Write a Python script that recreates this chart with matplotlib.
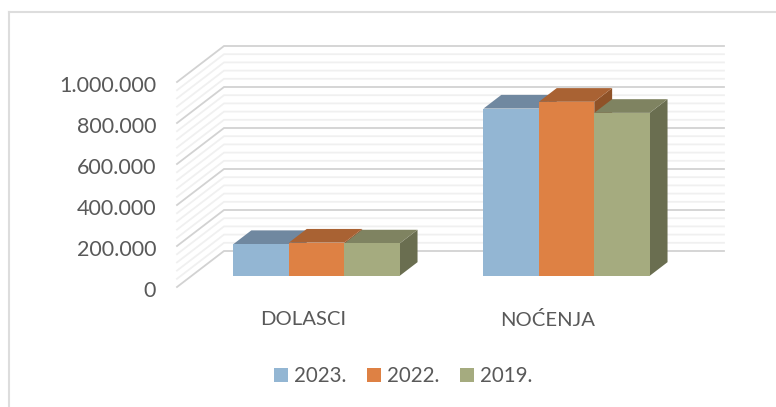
import matplotlib
matplotlib.use("Agg")
import matplotlib.pyplot as plt
from matplotlib.patches import Polygon, Rectangle
from matplotlib.lines import Line2D
from matplotlib.ticker import FuncFormatter
from matplotlib.transforms import ScaledTranslation

categories = ["DOLASCI", "NOĆENJA"]
series_names = ["2023.", "2022.", "2019."]
values_2023 = [155000, 816000]
values_2022 = [162000, 849000]
values_2019 = [158000, 795000]
major_ticks = [0, 200000, 400000, 600000, 800000, 1000000]
minor_step = 40000

front_colors = ["#93B6D3", "#DE8144", "#A5AB7F"]
top_colors = ["#7088A0", "#A96233", "#7F8361"]
side_colors = ["#6E8499", "#8F5228", "#6A6E50"]

W, H = 776, 407
plt.rcParams["font.family"] = ["Lato", "DejaVu Sans"]
fig = plt.figure(figsize=(W / 100, H / 100), dpi=100)

# front plane of the 3D box, pixels
L, R, T, B = 177, 677, 82, 287
ax = fig.add_axes([L / W, 1 - B / H, (R - L) / W, (B - T) / H])
ax.set_xlim(-0.5, 1.5)
ax.set_ylim(0, 1000000)
ax.patch.set_alpha(0)
for s in ax.spines.values():
    s.set_visible(False)

DX = 47 / 250      # wall depth in category units
DY = 36 / 205 * 1e6  # wall depth in value units


def proj(x, y, d):
    return x + DX * d, y + DY * d


# gridlines: left wall + back wall
v = 0
while v <= major_ticks[-1]:
    major = v in major_ticks
    col, lw = ("#D2D2D2", 1.3) if major else ("#F0F0F0", 1.3)
    x0, y0 = proj(-0.5, v, 0)
    x1, y1 = proj(-0.5, v, 1)
    x2, y2 = proj(1.5, v, 1)
    ax.add_line(Line2D([x0, x1, x2], [y0, y1, y2], color=col, lw=lw, clip_on=False,
                       zorder=2 if major else 1, solid_joinstyle="miter"))
    v += minor_step

# bars
bar_w = 55.4 / 250
D0, D1 = 0.31, 0.69
series = [values_2023, values_2022, values_2019]
z = 3
for ci in range(len(categories)):
    for si, vals in enumerate(series):
        xl = ci + (si - 1.5) * bar_w
        xr = xl + bar_w
        val = vals[ci]
        y_base = DY * D0
        y_top = y_base + val
        dxd = DX * (D1 - D0)
        dyd = DY * (D1 - D0)
        xf = DX * D0
        xl_f, xr_f = xl + xf, xr + xf
        ax.add_patch(Polygon([(xr_f, y_base), (xr_f + dxd, y_base + dyd),
                              (xr_f + dxd, y_top + dyd), (xr_f, y_top)],
                             fc=side_colors[si], ec="none", clip_on=False, zorder=z))
        ax.add_patch(Polygon([(xl_f, y_top), (xr_f, y_top), (xr_f + dxd, y_top + dyd),
                              (xl_f + dxd, y_top + dyd)],
                             fc=top_colors[si], ec="none", clip_on=False, zorder=z + 0.1))
        ax.bar(xl_f, val, width=bar_w, bottom=y_base, align="edge", color=front_colors[si],
               clip_on=False, zorder=z + 0.2)
        z += 1

ax.set_yticks(major_ticks)
ax.yaxis.set_major_formatter(FuncFormatter(lambda v, p: f"{int(v):,}".replace(",", ".")))
ax.set_xticks([0.004, 0.984])
ax.set_xticklabels(categories)
ax.tick_params(axis="y", length=0, labelsize=15.5, labelcolor="#595959", pad=15)
ax.tick_params(axis="x", length=0, labelsize=14.6, labelcolor="#595959", pad=17)
shift = ScaledTranslation(0, -2 / 100, fig.dpi_scale_trans)
for lbl in ax.get_yticklabels():
    lbl.set_transform(lbl.get_transform() + shift)

handles = [Rectangle((0, 0), 1, 1, fc=c, ec="none") for c in front_colors]
fig.legend(handles, series_names, loc="center", bbox_to_anchor=(403 / W, 1 - 376 / H), ncol=3,
           frameon=False, fontsize=14.8, labelcolor="#595959", handlelength=0.68, handleheight=0.68,
           handletextpad=0.29, columnspacing=1.0)

# chart frame
fig.add_artist(Line2D([9 / W, 9 / W], [1 - 12 / H, 1 - 407 / H], color="#DDDDDD", lw=1.5,
                      transform=fig.transFigure, zorder=-1))
fig.add_artist(Line2D([9 / W, 776 / W], [1 - 12 / H, 1 - 12 / H], color="#DDDDDD", lw=1.5,
                      transform=fig.transFigure, zorder=-1))

fig.savefig("out.png", dpi=100)
